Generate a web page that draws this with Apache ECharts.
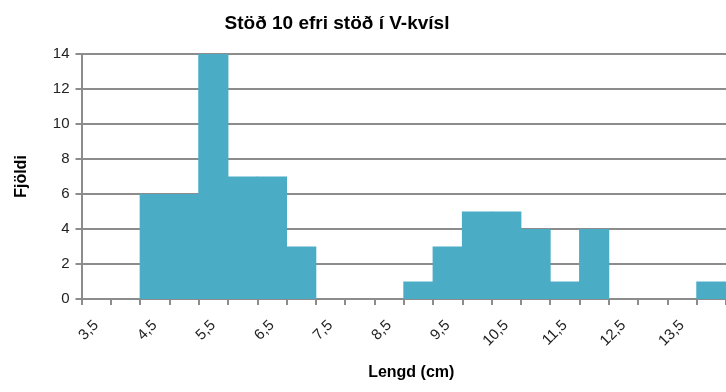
<!DOCTYPE html>
<html>
<head>
<meta charset="utf-8">
<script src="https://cdn.jsdelivr.net/npm/echarts@6/dist/echarts.min.js"></script>
<style>
  html, body { margin: 0; padding: 0; background: #fff; }
  #chart { width: 726px; height: 392px; }
</style>
</head>
<body>
<div id="chart"></div>
<script>
// Length classes (cm), step 0.5
const lengthClasses = ['3,5','4','4,5','5','5,5','6','6,5','7','7,5','8','8,5','9','9,5','10','10,5','11','11,5','12','12,5','13','13,5','14'];
// Number of fish per length class
const counts = [0, 0, 6, 6, 14, 7, 7, 3, 0, 0, 0, 1, 3, 5, 5, 4, 1, 4, 0, 0, 0, 1];
// Count axis range
const yMin = 0, yMax = 14, yStep = 2;

const font = 'Liberation Sans, Arial, sans-serif';
const gray = '#8c8c8c';
const barColor = '#4bacc6';
const chart = echarts.init(document.getElementById('chart'));
chart.setOption({
  animation: false,
  title: {
    text: 'Stöð 10 efri stöð í V-kvísl',
    left: 332, top: 9, textAlign: 'center',
    textStyle: { fontFamily: font, fontSize: 19, fontWeight: 'bold', color: '#000' }
  },
  grid: { left: 81.5, right: -4, top: 54, bottom: 93, containLabel: false },
  xAxis: {
    type: 'category',
    data: lengthClasses,
    boundaryGap: true,
    name: 'Lengd (cm)',
    nameLocation: 'middle',
    nameGap: 66,
    nameTextStyle: { fontFamily: font, fontSize: 16, fontWeight: 'bold', color: '#000', padding: [0, 0, 0, 15] },
    axisLine: { lineStyle: { color: gray, width: 2 } },
    axisTick: { show: true, interval: 0, length: 6, lineStyle: { color: gray, width: 2 } },
    axisLabel: { interval: 1, rotate: 45, margin: 24, fontFamily: font, fontSize: 15, color: '#222' },
    splitLine: { show: false }
  },
  yAxis: {
    type: 'value',
    min: yMin, max: yMax, interval: yStep,
    name: 'Fjöldi',
    nameLocation: 'middle',
    nameGap: 52,
    nameRotate: 90,
    nameTextStyle: { fontFamily: font, fontSize: 16, fontWeight: 'bold', color: '#000' },
    axisLine: { show: true, lineStyle: { color: gray, width: 2 } },
    axisTick: { show: true, length: 6, lineStyle: { color: gray, width: 2 } },
    axisLabel: { margin: 12, fontFamily: font, fontSize: 15, color: '#222' },
    splitLine: { show: true, lineStyle: { color: gray, width: 2 } }
  },
  series: [{
    type: 'bar',
    data: counts,
    // slightly wider than the band so neighbouring bars overlap without seams
    barCategoryGap: '-3%',
    itemStyle: { color: barColor }
  }]
});
</script>
</body>
</html>
